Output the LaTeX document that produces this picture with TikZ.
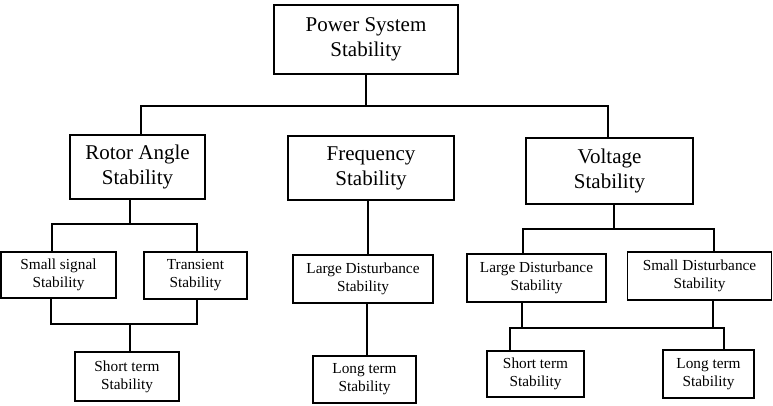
\documentclass[tikz,border=0pt]{standalone}
\usepackage{fontspec}
\setmainfont{Liberation Serif}
\tikzset{
  box/.style={draw=black, line width=1.5pt, fill=white, inner sep=0pt, align=center, anchor=center},
  bigtext/.style={box, font=\fontsize{21}{25}\selectfont},
  smalltext/.style={box, font=\fontsize{15.3}{18}\selectfont},
  conn/.style={draw=black, line width=1.4pt}
}
\begin{document}
\begin{tikzpicture}[x=1pt, y=-1pt]
\useasboundingbox (0,0) rectangle (773,406);
% top level
\node[bigtext, minimum width=184pt, minimum height=69pt] (top) at (366,39.5) {Power System\\Stability};
\node[bigtext, minimum width=135pt, minimum height=64pt] (rot) at (137.5,167) {Rotor Angle\\Stability};
\node[bigtext, minimum width=166pt, minimum height=64pt] (freq) at (371,168) {Frequency\\Stability};
\node[bigtext, minimum width=167pt, minimum height=66pt] (volt) at (609.5,171) {Voltage\\Stability};
% second level
\node[smalltext, minimum width=115pt, minimum height=46pt] (ss) at (58.5,275) {Small signal\\Stability};
\node[smalltext, minimum width=103pt, minimum height=47pt] (tr) at (195.5,275.5) {Transient\\Stability};
\node[smalltext, minimum width=140pt, minimum height=48pt] (fld) at (363,279) {Large Disturbance\\Stability};
\node[smalltext, minimum width=139pt, minimum height=48pt] (vld) at (536.5,278) {Large Disturbance\\Stability};
\node[smalltext, minimum width=144pt, minimum height=48pt] (vsd) at (699.5,276) {Small Disturbance\\Stability};
% third level
\node[smalltext, minimum width=104pt, minimum height=49pt] (st1) at (127,376.5) {Short term\\Stability};
\node[smalltext, minimum width=103pt, minimum height=47pt] (lt1) at (364.5,379.5) {Long term\\Stability};
\node[smalltext, minimum width=97pt, minimum height=46pt] (st2) at (535.5,374) {Short term\\Stability};
\node[smalltext, minimum width=91pt, minimum height=48pt] (lt2) at (708.5,374) {Long term\\Stability};
% coordinates of the buses
\coordinate (b1) at (141,106);
\coordinate (b2) at (608,106);
\coordinate (rs) at (130,224);
\coordinate (r1) at (52,224);
\coordinate (r2) at (197,224);
\coordinate (r3) at (51,324);
\coordinate (r4) at (197,324);
\coordinate (rs2) at (130,324);
\coordinate (f1) at (368,0);
\coordinate (f2) at (367,0);
\coordinate (vs) at (614,229);
\coordinate (v1) at (523,229);
\coordinate (v2) at (714,229);
\coordinate (v3) at (522,328);
\coordinate (v4) at (713,328);
\coordinate (v5) at (510,328);
\coordinate (v6) at (724,328);
% connectors
\draw[conn] (top.south) -- (top.south |- b1);
\draw[conn] (b1 |- rot.north) -- (b1) -- (b2) -- (b2 |- volt.north);
\draw[conn] (rs |- rot.south) -- (rs);
\draw[conn] (r1 |- ss.north) -- (r1) -- (r2) -- (r2 |- tr.north);
\draw[conn] (r3 |- ss.south) -- (r3) -- (r4) -- (r4 |- tr.south);
\draw[conn] (rs2) -- (rs2 |- st1.north);
\draw[conn] (f1 |- freq.south) -- (f1 |- fld.north);
\draw[conn] (f2 |- fld.south) -- (f2 |- lt1.north);
\draw[conn] (vs |- volt.south) -- (vs);
\draw[conn] (v1 |- vld.north) -- (v1) -- (v2) -- (v2 |- vsd.north);
\draw[conn] (v3 |- vld.south) -- (v3);
\draw[conn] (v4 |- vsd.south) -- (v4);
\draw[conn] (v5 |- st2.north) -- (v5) -- (v6) -- (v6 |- lt2.north);
\end{tikzpicture}
\end{document}
